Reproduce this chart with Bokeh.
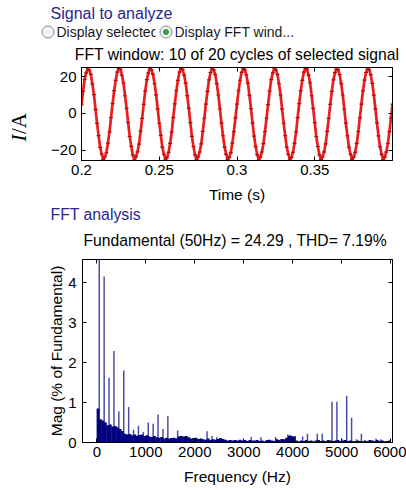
import numpy as np
from bokeh.plotting import figure
from bokeh.layouts import column, row
from bokeh.models import Range1d, FixedTicker, LinearAxis
from bokeh.core.properties import value
from bokeh.embed import file_html
from bokeh.resources import INLINE

FONT = "Liberation Sans"
SERIF = "Liberation Serif"
NAVY_TEXT = "#262690"

# ---------------- data ----------------
# time signal: samples every 1 ms over the 10-cycle FFT window (0.2 s .. 0.4 s)
t_start = 0.2
t_step = 0.001
current_A = [
    4.6, 12.0, 18.4, 22.0, 24.6, 23.5, 21.2, 16.0, 10.2, 2.2, -5.4, -12.0, -18.4, -22.0, -24.9, -23.6, -21.3, -16.1, -10.0, -2.2,
    5.3, 12.4, 17.9, 22.4, 24.4, 24.0, 20.7, 16.5, 9.6, 2.8, -4.9, -12.5, -17.8, -22.5, -25.1, -23.5, -20.8, -16.6, -9.6, -2.7,
    4.9, 12.1, 18.3, 21.9, 24.7, 23.6, 21.2, 16.1, 10.1, 2.3, -5.3, -11.9, -18.3, -22.1, -24.8, -24.0, -21.1, -16.2, -10.1, -2.3,
    5.2, 12.3, 17.9, 22.4, 24.3, 23.9, 20.8, 16.4, 9.7, 2.7, -5.0, -12.4, -17.9, -22.4, -25.0, -23.6, -20.9, -16.5, -9.7, -2.6,
    5.0, 12.0, 18.2, 22.1, 24.6, 23.7, 21.1, 16.2, 10.0, 2.4, -5.2, -12.1, -18.2, -22.0, -24.9, -23.8, -21.2, -16.1, -9.9, -2.4,
    5.1, 12.3, 18.0, 22.3, 24.5, 23.8, 20.9, 16.4, 9.8, 2.6, -5.1, -12.3, -18.0, -22.3, -25.1, -23.7, -20.9, -16.4, -9.8, -2.6,
    4.8, 12.1, 18.3, 22.0, 24.7, 23.6, 21.2, 16.1, 10.1, 2.3, -5.3, -12.0, -18.3, -22.1, -24.8, -23.9, -21.1, -16.2, -10.0, -2.3,
    5.3, 12.4, 17.9, 22.4, 24.4, 24.0, 20.8, 16.5, 9.6, 2.7, -5.0, -12.5, -17.9, -22.4, -25.0, -23.6, -20.8, -16.5, -9.7, -2.7,
    4.9, 12.0, 18.2, 22.1, 24.6, 23.7, 21.1, 16.2, 10.0, 2.4, -5.2, -12.1, -18.2, -22.1, -24.9, -23.8, -21.1, -16.2, -9.9, -2.4,
    5.1, 12.2, 18.1, 22.2, 24.5, 23.8, 21.0, 16.3, 9.9, 2.5, -5.1, -12.2, -18.1, -22.2, -25.0, -23.7, -21.0, -16.3, -9.9, -2.5,
    5.0,
]
time_ticks = [0.2, 0.25, 0.3, 0.35]
time_tick_labels = ["0.2", "0.25", "0.3", "0.35"]
current_ticks = [-20, 0, 20]

# spectrum: broadband floor in 50 Hz bins (0..6000 Hz), % of fundamental
floor_bin_hz = 50
floor_mag = [
    0.85, 0.58, 0.55, 0.50, 0.43, 0.45, 0.40, 0.41, 0.38, 0.34,
    0.29, 0.22, 0.20, 0.21, 0.18, 0.20, 0.17, 0.19, 0.20, 0.16,
    0.18, 0.15, 0.14, 0.16, 0.13, 0.12, 0.14, 0.10, 0.12, 0.10,
    0.11, 0.12, 0.10, 0.15, 0.16, 0.15, 0.16, 0.13, 0.10, 0.11,
    0.12, 0.09, 0.10, 0.08, 0.07, 0.10, 0.06, 0.08, 0.07, 0.09,
    0.11, 0.09, 0.07, 0.05, 0.06, 0.05, 0.06, 0.05, 0.07, 0.05,
    0.06, 0.04, 0.06, 0.05, 0.05, 0.06, 0.04, 0.05, 0.03, 0.06,
    0.07, 0.05, 0.04, 0.08, 0.06, 0.09, 0.08, 0.12, 0.17, 0.16,
    0.15, 0.05, 0.03, 0.05, 0.04, 0.06, 0.04, 0.05, 0.03, 0.05,
    0.06, 0.04, 0.05, 0.04, 0.06, 0.05, 0.04, 0.05, 0.06, 0.04,
    0.05, 0.06, 0.04, 0.05, 0.04, 0.03, 0.05, 0.04, 0.03, 0.05,
    0.04, 0.06, 0.05, 0.04, 0.06, 0.04, 0.05, 0.03, 0.04, 0.05,
]
# discrete harmonic lines (Hz, % of fundamental); fundamental is 100 % (clipped)
harm_freq = [50, 150, 250, 350, 450, 550, 650, 750, 850, 950, 1050, 1150, 1250, 1350,
             1450, 1650, 2250, 2350, 2450, 3150, 3350, 3650, 3900, 3950, 4050, 4200,
             4300, 4500, 4600, 4800, 4900, 5000, 5100, 5200, 5300, 5400, 5700, 5800]
harm_mag = [100.0, 4.15, 1.62, 2.29, 0.78, 1.80, 0.89, 0.32, 0.42, 0.26, 0.50, 0.47, 0.70, 0.34,
            0.66, 0.30, 0.28, 0.16, 0.14, 0.14, 0.13, 0.14, 0.20, 0.19, 0.16, 0.15,
            0.22, 0.22, 0.22, 1.02, 1.02, 0.10, 1.17, 0.62, 0.08, 0.22, 0.10, 0.08]
freq_ticks = [0, 1000, 2000, 3000, 4000, 5000, 6000]
mag_ticks = [0, 1, 2, 3, 4]

fundamental_hz = 50
fundamental_amp = 24.29
thd_pct = 7.19


def style_axis(ax, show_labels=True, standoff=5):
    ax.major_tick_in = 4
    ax.major_tick_out = 0
    ax.minor_tick_in = 0
    ax.minor_tick_out = 0
    ax.axis_line_color = "black"
    ax.major_tick_line_color = "black"
    ax.major_label_text_font = FONT
    ax.axis_label_text_font = FONT
    ax.axis_label_text_font_style = "normal"
    ax.axis_label_text_font_size = "15.5px"
    ax.axis_label_text_color = "black"
    if show_labels:
        ax.major_label_text_font_size = "15px"
        ax.major_label_text_color = "black"
        ax.major_label_standoff = standoff
    else:
        ax.major_label_text_font_size = "1px"
        ax.major_label_text_color = None
        ax.major_label_standoff = 0


def add_box_axes(p, xt, yt):
    top = LinearAxis(ticker=FixedTicker(ticks=xt))
    right = LinearAxis(ticker=FixedTicker(ticks=yt))
    style_axis(top, show_labels=False)
    style_axis(right, show_labels=False)
    p.add_layout(top, "above")
    p.add_layout(right, "right")


def text_band(width, height):
    f = figure(width=width, height=height, x_range=Range1d(0, width), y_range=Range1d(height, 0),
               output_backend="svg", toolbar_location=None,
               x_axis_location=None, y_axis_location=None, min_border=0,
               outline_line_color=None, frame_align=False)
    f.xgrid.visible = False
    f.ygrid.visible = False
    return f


# ---------------- header band (page rows 0..63) ----------------
h1 = text_band(406, 63)
h1.text(x=[50], y=[13], text=["Signal to analyze"], text_font=value(FONT),
        text_font_size="16px", text_color=NAVY_TEXT, text_baseline="middle", text_align="left")
h1.text(x=[56, 174], y=[31.5, 31.5], text=["Display selected", "Display FFT wind..."],
        text_font=value(FONT), text_font_size="14px", text_color="#1a1a1a",
        text_baseline="middle", text_align="left")
h1.quad(left=[155], right=[175], top=[23], bottom=[41], fill_color="white", line_color=None)
h1.scatter(x=[47.5, 165.5], y=[31.5, 31.5], size=12, marker="circle",
           fill_color="#f2f2f2", line_color="#8a8a8a", line_width=1)
h1.scatter(x=[165.5], y=[31.5], size=5, marker="circle",
           fill_color="#2fa84f", line_color="#1f7a38", line_width=0.8)
h1.text(x=[236.5], y=[53.5], text=["FFT window: 10 of 20 cycles of selected signal"],
        text_font=value(FONT), text_font_size="15.7px", text_color="black",
        text_baseline="middle", text_align="center")

# ---------------- side band with the y label "I/A" (page cols 0..40, rows 63..205) ----------------
s1 = text_band(40, 142)
s1.text(x=[18.5], y=[141 - 63], text=["I"], angle=np.pi / 2, text_font=value(SERIF),
        text_font_style="italic", text_font_size="21px", text_color="black",
        text_baseline="middle", text_align="left")
s1.text(x=[18.5], y=[133.5 - 63], text=["/A"], angle=np.pi / 2, text_font=value(SERIF),
        text_font_size="21px", text_color="black",
        text_baseline="middle", text_align="left")

# ---------------- time-domain plot (page cols 40..406, rows 63..205) ----------------
t = t_start + t_step * np.arange(len(current_A))
p1 = figure(width=366, height=142, x_range=Range1d(0.2, 0.4), y_range=Range1d(-25.5, 24.9),
            output_backend="svg", toolbar_location=None,
            min_border_left=41, min_border_right=14, min_border_top=4, min_border_bottom=42,
            outline_line_color="black", frame_align=False)
p1.xgrid.visible = False
p1.ygrid.visible = False
p1.line(t, current_A, line_color="#ec1c1c", line_width=2.7, line_join="round")
p1.scatter(t, current_A, marker="dash", size=4, line_color="#a81010", line_width=1.2)
p1.xaxis.ticker = FixedTicker(ticks=time_ticks)
p1.xaxis.major_label_overrides = dict(zip(time_ticks, time_tick_labels))
p1.yaxis.ticker = FixedTicker(ticks=current_ticks)
style_axis(p1.xaxis[0], standoff=4)
style_axis(p1.yaxis[0], standoff=5)
p1.xaxis.axis_label = "Time (s)"
p1.xaxis.axis_label_standoff = 8
add_box_axes(p1, time_ticks, current_ticks)

# ---------------- FFT text band (page rows 205..252) ----------------
h2 = text_band(406, 47)
h2.text(x=[50], y=[9], text=["FFT analysis"], text_font=value(FONT),
        text_font_size="15.8px", text_color=NAVY_TEXT, text_baseline="middle", text_align="left")
h2.text(x=[234.7], y=[35],
        text=[f"Fundamental ({fundamental_hz}Hz) = {fundamental_amp:.2f} , THD= {thd_pct:.2f}%"],
        text_font=value(FONT), text_font_size="15.7px", text_color="black",
        text_baseline="middle", text_align="center")

# ---------------- spectrum plot (page rows 252..490) ----------------
floor_centers = floor_bin_hz * np.arange(len(floor_mag)) + floor_bin_hz / 2
p2 = figure(width=406, height=238, x_range=Range1d(-292, 6035), y_range=Range1d(0, 4.575),
            output_backend="svg", toolbar_location=None,
            min_border_left=82, min_border_right=14, min_border_top=7, min_border_bottom=48,
            outline_line_color="black", frame_align=False)
p2.xgrid.visible = False
p2.ygrid.visible = False
# harmonic lines first, broadband floor drawn over them (lines stay visible above the floor)
p2.vbar(x=harm_freq, top=harm_mag, width=30, fill_color="#4b4ba3", line_color=None)
p2.vbar(x=floor_centers, top=floor_mag, width=floor_bin_hz + 8,
        fill_color="#00007f", line_color=None)
p2.xaxis.ticker = FixedTicker(ticks=freq_ticks)
p2.yaxis.ticker = FixedTicker(ticks=mag_ticks)
style_axis(p2.xaxis[0], standoff=4)
style_axis(p2.yaxis[0], standoff=6)
p2.xaxis.axis_label = "Frequency (Hz)"
p2.xaxis.axis_label_standoff = 8
p2.yaxis.axis_label = "Mag (% of Fundamental)"
p2.yaxis.axis_label_standoff = 0
add_box_axes(p2, freq_ticks, mag_ticks)

layout = column(h1, row(s1, p1, spacing=0), h2, p2, spacing=0)
open("out.html", "w").write(file_html(layout, INLINE))
